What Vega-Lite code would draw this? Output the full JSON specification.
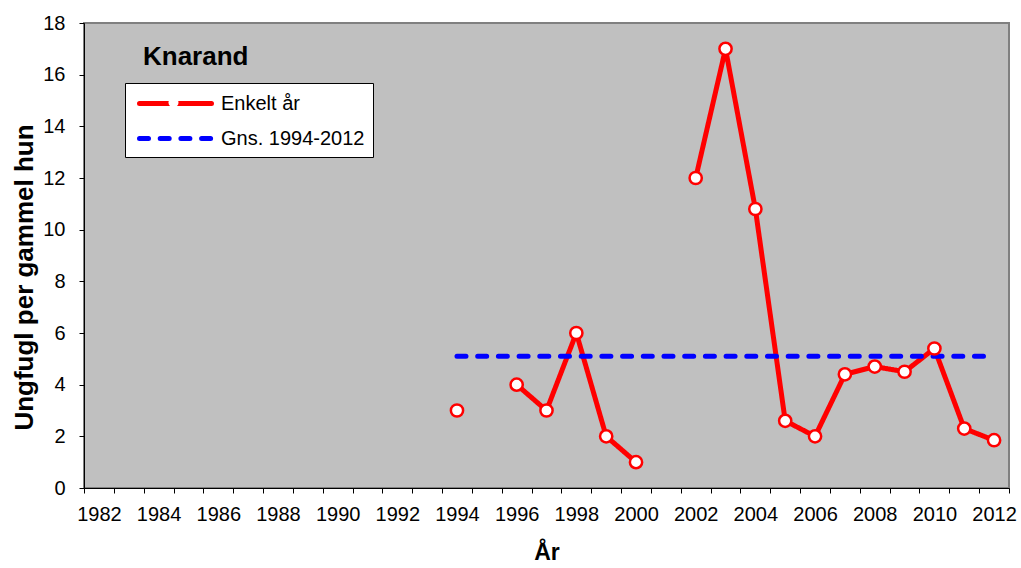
{
  "$schema": "https://vega.github.io/schema/vega-lite/v6.json",
  "width": 925,
  "height": 465,
  "autosize": {"type": "none"},
  "padding": {"left": 84, "top": 23, "right": 12, "bottom": 80},
  "background": "white",
  "title": {
    "text": "Knarand",
    "anchor": "start",
    "frame": "group",
    "orient": "top",
    "baseline": "alphabetic",
    "offset": 0,
    "dx": 59,
    "dy": 78,
    "font": "Liberation Sans",
    "fontSize": 26,
    "fontWeight": "bold",
    "color": "black"
  },
  "config": {
    "font": "Liberation Sans",
    "view": {"fill": "#C0C0C0", "stroke": "#808080", "strokeWidth": 2}
  },
  "data": {
    "values": [
      {"year": 1994, "value": 3, "series": "Enkelt år"},
      {"year": 1995, "value": null, "series": "Enkelt år"},
      {"year": 1996, "value": 4, "series": "Enkelt år"},
      {"year": 1997, "value": 3, "series": "Enkelt år"},
      {"year": 1998, "value": 6, "series": "Enkelt år"},
      {"year": 1999, "value": 2, "series": "Enkelt år"},
      {"year": 2000, "value": 1, "series": "Enkelt år"},
      {"year": 2001, "value": null, "series": "Enkelt år"},
      {"year": 2002, "value": 12, "series": "Enkelt år"},
      {"year": 2003, "value": 17, "series": "Enkelt år"},
      {"year": 2004, "value": 10.8, "series": "Enkelt år"},
      {"year": 2005, "value": 2.6, "series": "Enkelt år"},
      {"year": 2006, "value": 2, "series": "Enkelt år"},
      {"year": 2007, "value": 4.4, "series": "Enkelt år"},
      {"year": 2008, "value": 4.7, "series": "Enkelt år"},
      {"year": 2009, "value": 4.5, "series": "Enkelt år"},
      {"year": 2010, "value": 5.4, "series": "Enkelt år"},
      {"year": 2011, "value": 2.3, "series": "Enkelt år"},
      {"year": 2012, "value": 1.85, "series": "Enkelt år"},
      {"year": 1994, "value": 5.1, "series": "Gns. 1994-2012"},
      {"year": 2012, "value": 5.1, "series": "Gns. 1994-2012"}
    ]
  },
  "encoding": {
    "x": {
      "field": "year",
      "type": "ordinal",
      "scale": {
        "type": "band",
        "paddingInner": 0,
        "paddingOuter": 0,
        "domain": [1982,1983,1984,1985,1986,1987,1988,1989,1990,1991,1992,1993,1994,1995,1996,1997,1998,1999,2000,2001,2002,2003,2004,2005,2006,2007,2008,2009,2010,2011,2012]
      },
      "axis": {
        "title": "År",
        "titleFont": "Liberation Sans",
        "titleFontSize": 23,
        "titleFontWeight": "bold",
        "titleColor": "black",
        "titlePadding": 17,
        "labelFont": "Liberation Sans",
        "labelFontSize": 20,
        "labelColor": "black",
        "labelAngle": 0,
        "labelPadding": 11,
        "labelExpr": "datum.value % 2 === 0 ? datum.label : ''",
        "tickBand": "extent",
        "tickSize": 5,
        "tickColor": "black",
        "domainColor": "black",
        "grid": false
      }
    },
    "y": {
      "field": "value",
      "type": "quantitative",
      "scale": {"domain": [0, 18], "nice": false},
      "axis": {
        "title": "Ungfugl per gammel hun",
        "titleFont": "Liberation Sans",
        "titleFontSize": 26,
        "titleFontWeight": "bold",
        "titleColor": "black",
        "titleX": -60,
        "titleY": 254,
        "titleBaseline": "middle",
        "titleAngle": -90,
        "labelFont": "Liberation Sans",
        "labelFontSize": 20,
        "labelColor": "black",
        "labelPadding": 14,
        "values": [0, 2, 4, 6, 8, 10, 12, 14, 16, 18],
        "tickSize": 5,
        "tickColor": "black",
        "domainColor": "black",
        "grid": false
      }
    }
  },
  "layer": [
    {
      "mark": {"type": "line", "strokeWidth": 5, "strokeCap": "round", "strokeJoin": "round"},
      "encoding": {
        "color": {
          "field": "series",
          "type": "nominal",
          "scale": {"domain": ["Enkelt år", "Gns. 1994-2012"], "range": ["#FF0000", "#0000FF"]},
          "legend": {
            "orient": "none",
            "legendX": 41,
            "legendY": 60,
            "title": null,
            "fillColor": "white",
            "strokeColor": "black",
            "padding": 8,
            "symbolType": "M-0.6,0H6.6",
            "symbolSize": 400,
            "symbolStrokeWidth": 5,
            "labelOffset": 63,
            "rowPadding": 12,
            "labelFont": "Liberation Sans",
            "labelFontSize": 20,
            "labelColor": "black",
            "encode": {
              "symbols": {
                "update": {
                  "strokeCap": {"value": "round"},
                  "strokeWidth": {"value": 5},
                  "opacity": {"value": 1}
                }
              }
            }
          }
        },
        "strokeDash": {
          "field": "series",
          "type": "nominal",
          "scale": {"domain": ["Enkelt år", "Gns. 1994-2012"], "range": [[1, 0], [9, 11.7]]},
          "legend": null
        }
      }
    },
    {
      "transform": [{"filter": "datum.series === 'Enkelt år' && datum.value != null"}],
      "mark": {"type": "point", "filled": false, "fill": "white", "fillOpacity": 1, "stroke": "#FF0000", "strokeWidth": 2.5, "size": 150, "opacity": 1},
      "encoding": {
        "shape": {
          "field": "series",
          "type": "nominal",
          "scale": {"domain": ["Enkelt år"], "range": ["circle"]},
          "legend": {
            "orient": "none",
            "legendX": 83,
            "legendY": 73,
            "title": null,
            "padding": 0,
            "symbolSize": 100,
            "symbolFillColor": "white",
            "symbolStrokeColor": "#FF0000",
            "symbolStrokeWidth": 2.5,
            "symbolOpacity": 1,
            "labelExpr": "''",
            "labelFontSize": 8,
            "encode": {
              "symbols": {
                "update": {
                  "size": {"value": 100},
                  "strokeWidth": {"value": 2.5},
                  "fill": {"value": "white"},
                  "stroke": {"value": "#FF0000"}
                }
              }
            }
          }
        }
      }
    }
  ]
}
